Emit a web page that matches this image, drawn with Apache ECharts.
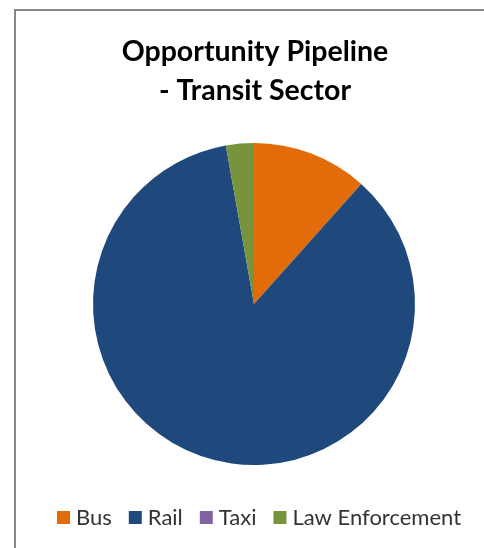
<!DOCTYPE html>
<html>
<head>
<meta charset="utf-8">
<script src="https://cdn.jsdelivr.net/npm/echarts@6/dist/echarts.min.js"></script>
<style>
  html, body { margin: 0; padding: 0; background: #ffffff; }
  #chart { width: 484px; height: 548px; }
</style>
</head>
<body>
<div id="chart"></div>
<script>
// Share of the transit opportunity pipeline by segment (%)
const categories = ['Bus', 'Rail', 'Taxi', 'Law Enforcement'];
const shares = [11.6, 85.6, 0, 2.8];
const colors = ['#E36C0A', '#1F497D', '#8064A2', '#77933C'];

const chart = echarts.init(document.getElementById('chart'), null, { renderer: 'canvas' });

chart.setOption({
  animation: false,
  backgroundColor: '#ffffff',
  color: colors,
  title: {
    text: 'Opportunity Pipeline\n- Transit Sector',
    left: 255,
    textAlign: 'center',
    top: 33,
    padding: 0,
    textStyle: {
      fontFamily: 'Lato',
      fontWeight: 'bold',
      fontSize: 28.5,
      lineHeight: 38.6,
      color: '#000000'
    }
  },
  legend: {
    data: categories,
    left: 57,
    top: 505,
    padding: 0,
    itemWidth: 13,
    itemHeight: 13,
    itemGap: 17,
    icon: 'rect',
    selectedMode: false,
    textStyle: {
      fontFamily: 'Lato',
      fontSize: 22,
      lineHeight: 25,
      color: '#333333',
      padding: [0, 0, 0, 1]
    }
  },
  graphic: [{
    type: 'rect',
    silent: true,
    shape: { x: 15, y: 10, width: 600, height: 700 },
    style: { fill: 'none', stroke: '#878787', lineWidth: 2 }
  }],
  series: [{
    type: 'pie',
    center: [254, 304],
    radius: 161,
    startAngle: 90,
    clockwise: true,
    label: { show: false },
    labelLine: { show: false },
    emphasis: { disabled: true },
    itemStyle: { borderWidth: 0 },
    data: categories.map((name, i) => ({ name: name, value: shares[i] }))
  }]
});
</script>
</body>
</html>
